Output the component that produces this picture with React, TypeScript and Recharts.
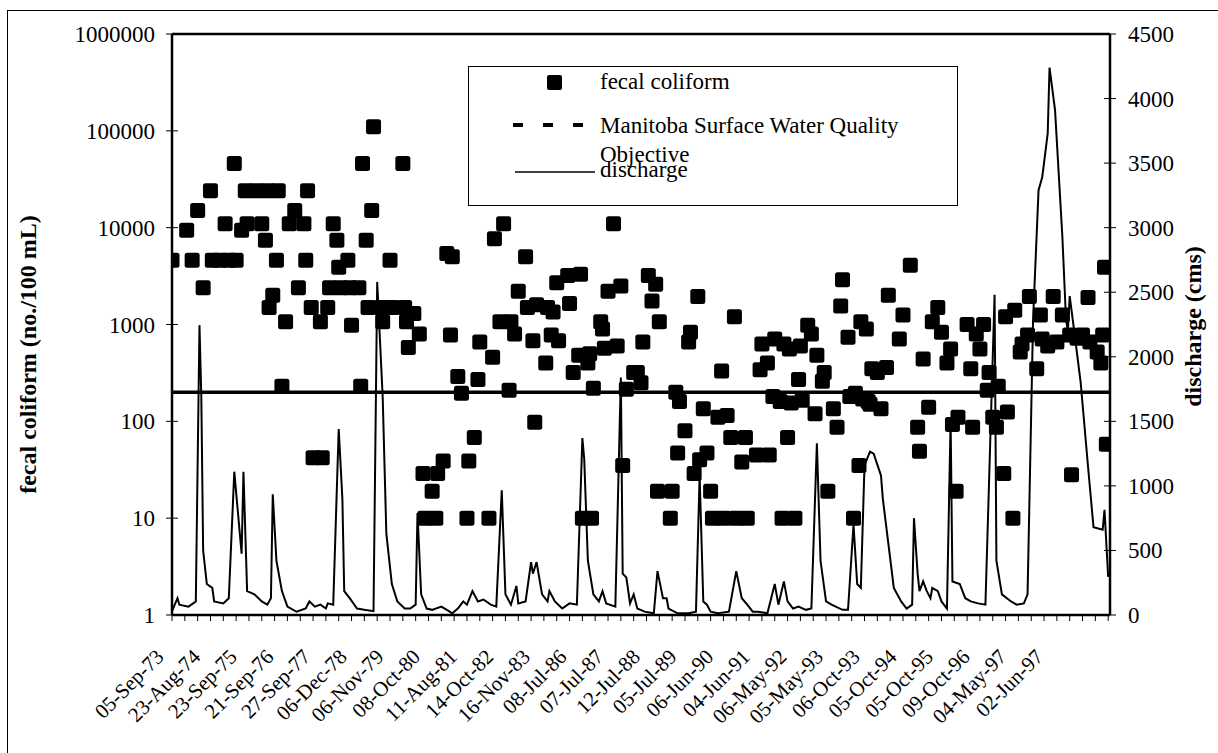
import React from 'react';
import { ComposedChart, Line, Scatter, XAxis, YAxis, Legend, ReferenceLine } from 'recharts';

const FONT = '"Liberation Serif", "Times New Roman", serif';

// category axis: 512 sample positions, tick mark every 7, date label every 20
const CATEGORY_COUNT = 512;
const TICK_EVERY = 7;
const LABEL_EVERY = 20;

const dateLabels = [
  '05-Sep-73', '23-Aug-74', '23-Sep-75', '21-Sep-76', '27-Sep-77', '06-Dec-78', '06-Nov-79',
  '08-Oct-80', '11-Aug-81', '14-Oct-82', '16-Nov-83', '08-Jul-86', '07-Jul-87', '12-Jul-88',
  '05-Jul-89', '06-Jun-90', '04-Jun-91', '06-May-92', '05-May-93', '06-Oct-93', '05-Oct-94',
  '05-Oct-95', '09-Oct-96', '04-May-97', '02-Jun-97',
];

const leftTicks = [1, 10, 100, 1000, 10000, 100000, 1000000];
const rightTicks = [0, 500, 1000, 1500, 2000, 2500, 3000, 3500, 4000, 4500];

// fecal coliform (no./100 mL): sample position and value
const fecalIndex = [
  0, 8, 11, 14, 17, 21, 22, 26, 29, 31, 34, 35, 38, 40, 41, 46, 49, 51, 52, 53,
  55, 57, 58, 60, 62, 64, 67, 69, 72, 73, 74, 76, 77, 81, 82, 85, 86, 88, 90, 91,
  92, 96, 97, 98, 102, 103, 104, 106, 107, 109, 110, 114, 115, 119, 120, 126, 127, 128, 129, 132,
  135, 137, 138, 142, 144, 145, 148, 150, 152, 153, 156, 158, 161, 162, 165, 167, 168, 173, 175, 176,
  179, 181, 184, 185, 187, 189, 193, 194, 197, 198, 199, 204, 205, 207, 208, 210, 211, 216, 217, 219,
  222, 223, 224, 227, 228, 229, 230, 234, 235, 236, 238, 241, 243, 245, 246, 248, 252, 254, 256, 257,
  260, 262, 264, 265, 266, 272, 273, 275, 276, 277, 280, 282, 283, 285, 287, 288, 290, 292, 294, 295,
  298, 300, 301, 303, 305, 307, 308, 311, 313, 314, 319, 321, 322, 325, 326, 328, 329, 332, 333, 334,
  336, 337, 338, 340, 342, 343, 344, 347, 349, 351, 352, 355, 356, 358, 361, 363, 365, 366, 369, 370,
  372, 373, 375, 376, 377, 379, 380, 381, 382, 385, 387, 390, 391, 397, 399, 403, 407, 408, 410, 413,
  415, 418, 420, 423, 425, 426, 428, 429, 434, 436, 437, 439, 441, 443, 445, 446, 448, 450, 451, 454,
  455, 456, 459, 460, 463, 464, 467, 468, 472, 474, 475, 478, 481, 483, 486, 490, 491, 494, 497, 500,
  501, 505, 507, 508, 509, 510,
];
const fecalValue = [
  4600, 9400, 4600, 15000, 2400, 24000, 4600, 4600, 11000, 4600, 46000, 4600, 9400, 24000, 11000, 24000, 11000, 7400, 24000, 1500,
  2000, 4600, 24000, 230, 1070, 11000, 15000, 2400, 11000, 4600, 24000, 1500, 42, 1070, 42, 1500, 2400, 11000, 7400, 3900,
  2400, 4600, 2400, 980, 2400, 230, 46000, 7400, 1500, 15000, 110000, 1500, 1070, 4600, 1500, 46000, 1500, 1070, 580, 1300,
  800, 29, 10, 19, 10, 29, 39, 5400, 780, 5000, 290, 195, 10, 39, 68, 270, 660, 10, 460, 7700,
  1070, 11000, 210, 1070, 800, 2200, 5000, 1500, 680, 98, 1600, 400, 1500, 780, 1350, 2700, 680, 3200, 1650, 320,
  480, 3300, 10, 400, 500, 10, 220, 1070, 900, 570, 2200, 11000, 600, 2500, 35, 215, 320, 320, 250, 660,
  3200, 1750, 2600, 19, 1070, 10, 19, 200, 47, 160, 80, 660, 830, 29, 1950, 40, 135, 47, 19, 10,
  110, 330, 10, 115, 68, 1200, 10, 38, 68, 10, 45, 340, 630, 400, 45, 180, 710, 160, 10, 630,
  68, 560, 155, 10, 270, 600, 165, 980, 800, 120, 480, 260, 320, 19, 135, 87, 1550, 2900, 740, 180,
  10, 195, 35, 1070, 170, 900, 160, 150, 350, 320, 135, 360, 2000, 710, 1250, 4100, 87, 49, 440, 140,
  1070, 1500, 830, 400, 560, 93, 19, 110, 1000, 350, 87, 800, 560, 1000, 210, 320, 110, 87, 230, 29,
  1200, 125, 10, 1400, 520, 630, 780, 1950, 350, 1250, 710, 600, 1950, 660, 1250, 780, 28, 720, 780, 1900,
  660, 520, 400, 780, 3900, 58,
];

// discharge (cms): sample position and value
const dischargeIndex = [
  0, 3, 4, 9, 13, 15, 16, 17, 19, 22, 23, 28, 31, 34, 38, 39, 41, 45, 49, 52,
  54, 55, 57, 60, 63, 68, 73, 75, 78, 81, 84, 85, 88, 91, 93, 94, 97, 101, 105, 110,
  112, 115, 117, 120, 123, 127, 130, 133, 134, 136, 139, 142, 147, 150, 153, 156, 159, 161, 164, 167,
  170, 174, 177, 180, 182, 185, 188, 189, 193, 196, 197, 199, 202, 205, 206, 209, 213, 217, 221, 224,
  225, 227, 230, 233, 235, 237, 242, 245, 246, 248, 250, 252, 254, 258, 263, 265, 268, 270, 271, 276,
  282, 286, 288, 290, 292, 294, 298, 304, 308, 311, 314, 317, 320, 325, 329, 331, 334, 336, 339, 342,
  346, 349, 352, 354, 357, 360, 366, 369, 372, 374, 376, 378, 381, 383, 387, 388, 391, 394, 398, 401,
  404, 405, 407, 408, 410, 412, 414, 415, 418, 420, 423, 425, 426, 430, 433, 436, 440, 444, 449, 450,
  453, 458, 461, 465, 467, 470, 473, 475, 478, 479, 482, 486, 488, 489, 490, 492, 496, 500, 503, 508,
  509, 511,
];
const dischargeValue = [
  30, 130, 80, 65, 105, 2245, 1690, 500, 240, 210, 105, 90, 130, 1110, 475, 1110, 185, 160, 105, 80,
  130, 935, 420, 185, 65, 25, 50, 105, 65, 80, 50, 90, 80, 1440, 900, 185, 130, 50, 40, 30,
  2580, 1690, 630, 240, 105, 50, 50, 80, 790, 160, 50, 40, 65, 40, 13, 50, 105, 80, 185, 105,
  120, 80, 65, 965, 160, 80, 225, 90, 105, 410, 320, 410, 160, 105, 185, 105, 50, 90, 80, 1370,
  1210, 420, 160, 105, 185, 90, 65, 1840, 320, 290, 90, 160, 50, 26, 13, 340, 130, 130, 50, 13,
  13, 26, 1080, 105, 80, 26, 13, 26, 340, 130, 80, 26, 26, 13, 240, 80, 260, 105, 50, 65,
  40, 50, 1330, 420, 105, 80, 40, 40, 700, 240, 210, 1160, 1265, 1250, 1080, 900, 555, 210, 105, 50,
  80, 750, 320, 185, 260, 185, 130, 210, 185, 105, 50, 1510, 260, 240, 130, 105, 90, 80, 2480, 420,
  160, 105, 80, 90, 160, 2285, 3290, 3390, 3730, 4240, 3910, 2930, 2285, 2200, 2470, 2250, 1800, 1150, 680, 660,
  815, 295,
];

// Manitoba Surface Water Quality Objective (no./100 mL)
const objectiveValue = 200;

const fecalData = fecalIndex.map((i, k) => ({ i, fc: fecalValue[k] }));
const dischargeData = dischargeIndex.map((i, k) => ({ i, q: dischargeValue[k] }));
const objectiveData = [{ i: 0, obj: objectiveValue }, { i: CATEGORY_COUNT, obj: objectiveValue }];

const xTicks: number[] = [];
for (let v = 0; v <= CATEGORY_COUNT; v++) {
  if (v % TICK_EVERY === 0 || (v % LABEL_EVERY === 0 && v / LABEL_EVERY < dateLabels.length)) xTicks.push(v);
}

const XTick = (props: any) => {
  const { x, y, payload } = props;
  const v = payload.value as number;
  const showMark = v % TICK_EVERY === 0;
  const li = v / LABEL_EVERY;
  const showLabel = v % LABEL_EVERY === 0 && li < dateLabels.length;
  const ax = x - 7;
  const ay = y + 43;
  return (
    <g>
      {showMark && <line x1={x} x2={x} y1={y} y2={y + 6} stroke="#000" strokeWidth={1} />}
      {showLabel && (
        <text x={ax} y={ay} textAnchor="end" transform={`rotate(-45 ${ax} ${ay})`}
          fontFamily={FONT} fontSize={21} fill="#000">{dateLabels[li]}</text>
      )}
    </g>
  );
};

const LeftTick = (props: any) => {
  const { x, y, payload } = props;
  return (
    <g>
      <line x1={x - 6} x2={x + 6} y1={y} y2={y} stroke="#000" strokeWidth={1} />
      <text x={x - 17} y={y} dy="0.35em" textAnchor="end" fontFamily={FONT} fontSize={23} fill="#000">
        {String(payload.value)}
      </text>
    </g>
  );
};

const RightTick = (props: any) => {
  const { x, y, payload } = props;
  return (
    <g>
      <line x1={x - 6} x2={x + 6} y1={y} y2={y} stroke="#000" strokeWidth={1} />
      <text x={x + 18} y={y} dy="0.35em" textAnchor="start" fontFamily={FONT} fontSize={23} fill="#000">
        {String(payload.value)}
      </text>
    </g>
  );
};

const LeftTitle = (props: any) => {
  const vb = props.viewBox || { x: 0, y: 34, width: 172, height: 581 };
  const tx = vb.x + 36;
  const ty = vb.y + vb.height / 2 + 30;
  return (
    <text x={tx} y={ty} textAnchor="middle" transform={`rotate(-90 ${tx} ${ty})`}
      fontFamily={FONT} fontSize={24} fontWeight="bold" fill="#000">fecal coliform (no./100 mL)</text>
  );
};

const RightTitle = (props: any) => {
  const vb = props.viewBox || { x: 1110, y: 34, width: 108, height: 581 };
  const tx = vb.x + 91;
  const ty = vb.y + vb.height / 2 + 2;
  return (
    <text x={tx} y={ty} textAnchor="middle" transform={`rotate(-90 ${tx} ${ty})`}
      fontFamily={FONT} fontSize={24} fontWeight="bold" fill="#000">discharge (cms)</text>
  );
};

const SquareDot = (props: any) => {
  const { cx, cy } = props;
  if (cx == null || cy == null) return null;
  return <rect x={cx - 7.5} y={cy - 7.5} width={15} height={15} rx={2.5} fill="#000" />;
};

const renderLegend = () => (
  <svg width={490} height={140} style={{ display: 'block' }}>
    <rect x={0.5} y={0.5} width={489} height={139} fill="#fff" stroke="#000" strokeWidth={1} />
    <rect x={79} y={9} width={15} height={15} rx={2} fill="#000" />
    <text x={132} y={23} fontFamily={FONT} fontSize={23} fill="#000">fecal coliform</text>
    <line x1={45} x2={115} y1={59} y2={59} stroke="#000" strokeWidth={4} strokeDasharray="10 20" />
    <text x={132} y={67} fontFamily={FONT} fontSize={23} fill="#000">Manitoba Surface Water Quality</text>
    <text x={132} y={96} fontFamily={FONT} fontSize={23} fill="#000">Objective</text>
    <line x1={47} x2={127} y1={106} y2={106} stroke="#000" strokeWidth={1.5} />
    <text x={132} y={111} fontFamily={FONT} fontSize={23} fill="#000">discharge</text>
  </svg>
);

export default function App() {
  return (
    <div style={{ position: 'absolute', left: 0, top: 0, width: 1218, height: 753, overflow: 'hidden', background: '#fff' }}>
      <div style={{ position: 'absolute', left: 7, top: 10, width: 1240, height: 800, borderLeft: '1px solid #000', borderTop: '1px solid #000' }} />
      <div style={{ position: 'absolute', left: 0, top: 0 }}>
        <ComposedChart width={1218} height={753} margin={{ top: 34, right: 0, bottom: 0, left: 0 }}>
          <XAxis type="number" dataKey="i" domain={[0, CATEGORY_COUNT]} ticks={xTicks} interval={0}
            tickSize={0} tickMargin={0} tick={<XTick />} tickLine={false} height={138}
            axisLine={{ stroke: '#000', strokeWidth: 2.5 }} allowDataOverflow />
          <YAxis yAxisId="left" type="number" scale="log" domain={[1, 1000000]} ticks={leftTicks} interval={0}
            width={172} tickSize={0} tickMargin={0} tick={<LeftTick />} tickLine={false}
            axisLine={{ stroke: '#000', strokeWidth: 2.5 }} allowDataOverflow label={<LeftTitle />} />
          <YAxis yAxisId="right" orientation="right" type="number" domain={[0, 4500]} ticks={rightTicks} interval={0}
            width={108} tickSize={0} tickMargin={0} tick={<RightTick />} tickLine={false}
            axisLine={{ stroke: '#000', strokeWidth: 2.5 }} allowDataOverflow label={<RightTitle />} />
          <ReferenceLine yAxisId="right" y={4500} stroke="#000" strokeWidth={2.5} />
          <Legend verticalAlign="middle" align="center" layout="horizontal" content={renderLegend}
            wrapperStyle={{ position: 'absolute', left: 468, top: 66, width: 490, height: 140 }} />
          <Line yAxisId="right" data={dischargeData} dataKey="q" name="discharge" type="linear" stroke="#000"
            strokeWidth={2} dot={false} activeDot={false} isAnimationActive={false} />
          <Line yAxisId="left" data={objectiveData} dataKey="obj" name="Manitoba Surface Water Quality Objective"
            type="linear" stroke="#000" strokeWidth={3.5} dot={false} activeDot={false} isAnimationActive={false} />
          <Scatter yAxisId="left" data={fecalData} dataKey="fc" name="fecal coliform" fill="#000"
            shape={<SquareDot />} isAnimationActive={false} />
        </ComposedChart>
      </div>
    </div>
  );
}
